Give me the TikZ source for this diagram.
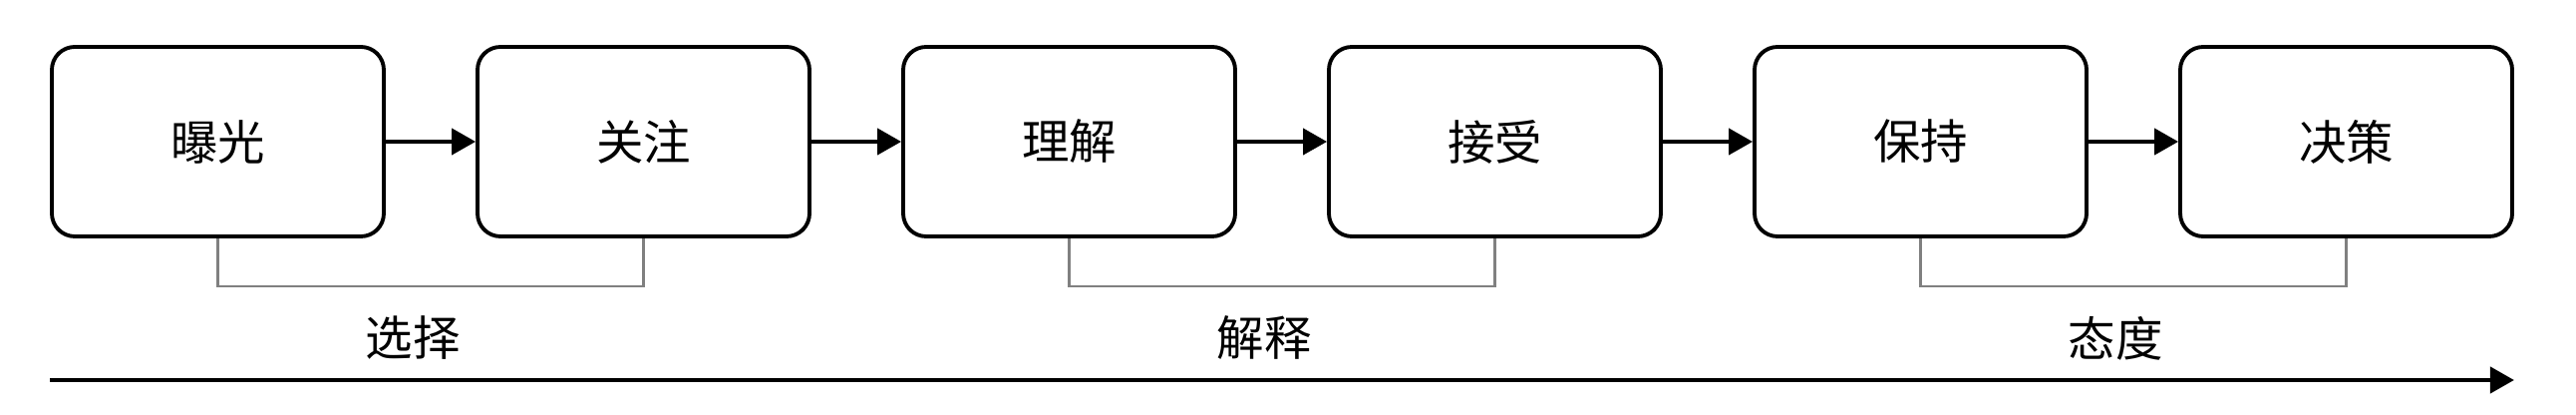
\documentclass[tikz,border=0pt]{standalone}
\usepackage{fontspec}
\newfontfamily\cjk{Noto Sans CJK SC}
\usetikzlibrary{positioning,arrows.meta}

\begin{document}
\begin{tikzpicture}[>={Triangle[length=2.4mm,width=2.6mm]},node distance=4.27cm,on grid,
  every node/.style={font=\cjk\fontsize{13.5}{16}\selectfont},
  stage/.style={draw,line width=1.1pt,rounded corners=2.3mm,minimum width=3.33cm,minimum height=1.9cm},
  link/.style={->,line width=1.2pt},
  bracket/.style={draw=gray,line width=0.6pt},
  group/.style={anchor=center,yshift=-0.52cm,xshift=-0.18cm}]
  \useasboundingbox (0,0) rectangle (25.84,4.16);
  \node[stage] (expo) at (2.185,2.74) {曝光};
  \node[stage] (atten) [right=of expo] {关注};
  \node[stage] (under) [right=of atten] {理解};
  \node[stage] (accept) [right=of under] {接受};
  \node[stage] (retain) [right=of accept] {保持};
  \node[stage] (decide) [right=of retain] {决策};
  \path[link]
    (expo) edge (atten)
    (atten) edge (under)
    (under) edge (accept)
    (accept) edge (retain)
    (retain) edge (decide);
  % groups
  \draw[bracket] (expo.south) -- ++(0,-0.48) -| node[pos=0.25,group] (select) {选择} (atten.south);
  \draw[bracket] (under.south) -- ++(0,-0.48) -| node[pos=0.25,group] (interp) {解释} (accept.south);
  \draw[bracket] (retain.south) -- ++(0,-0.48) -| node[pos=0.25,group] (attit) {态度} (decide.south);
  % time line
  \coordinate (tstart) at (expo.west |- 0,0.35);
  \coordinate (tend) at (decide.east |- 0,0.35);
  \draw[link] (tstart) -- (tend);
\end{tikzpicture}
\end{document}
